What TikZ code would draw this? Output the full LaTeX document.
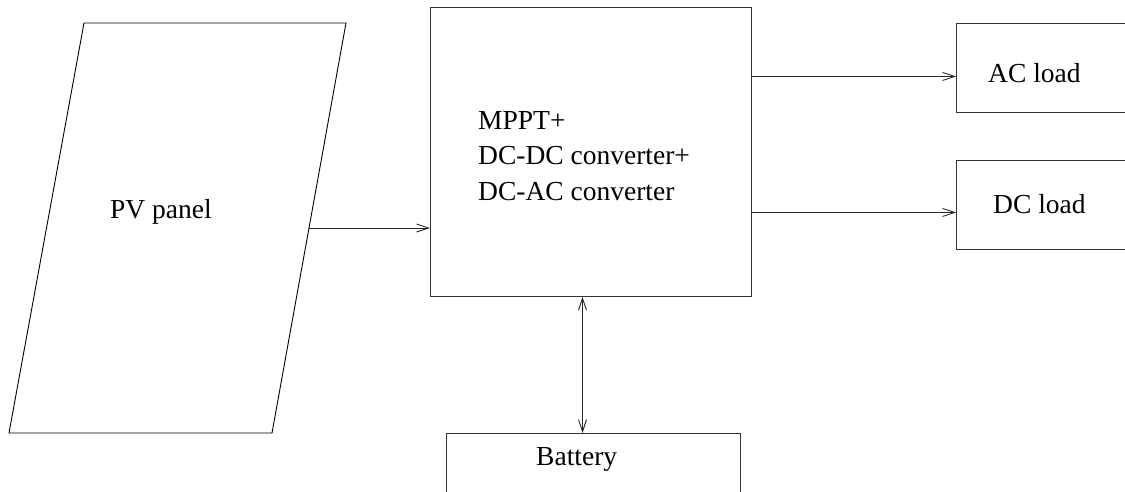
\documentclass[tikz,border=0pt]{standalone}
\usepackage{fontspec}
\setmainfont{Liberation Serif}
\usetikzlibrary{arrows.meta,positioning,calc}
\tikzset{
  doboz/.style={draw=black!80,line width=0.9pt,inner sep=0pt},
  felirat/.style={inner sep=0pt,font=\fontsize{27.5}{35.5}\selectfont},
  nyil/.style={black!85,line width=0.9pt,-{Straight Barb[length=12pt,width=8pt,line width=0.9pt]}},
  ketnyil/.style={black!85,line width=0.9pt,{Straight Barb[length=12pt,width=8pt,line width=0.9pt]}-{Straight Barb[length=12pt,width=8pt,line width=0.9pt]}},
}

\begin{document}
\begin{tikzpicture}[x=1pt,y=-1pt]
  \useasboundingbox (0,0) rectangle (1125,491);
  \clip (0,0) rectangle (1125,491);
  % PV panel (parallelogram)
  \draw[black,line width=0.9pt] (84,23) -- (346,23) -- (272,433) -- (9,433) -- cycle;
  \node[felirat,anchor=base west] (pv) at (110,218) {PV panel};
  \coordinate (pvki) at (309,228);
  % converter block
  \node[doboz,anchor=north west,minimum width=321pt,minimum height=289pt] (conv) at (430,7) {};
  \node[felirat,anchor=base west,align=left] (convtxt) at (478,200)
    {MPPT+\\DC-DC converter+\\DC-AC converter};
  % loads
  \node[doboz,anchor=north west,minimum width=220pt,minimum height=89pt] (ac) at (956,23) {};
  \node[felirat,anchor=base west] (actxt) at (988,82) {AC load};
  \node[doboz,anchor=north west,minimum width=220pt,minimum height=89pt] (dc) at (956,160) {};
  \node[felirat,anchor=base west] (dctxt) at (993,213) {DC load};
  % battery
  \node[doboz,anchor=north west,minimum width=294pt,minimum height=90pt] (bat) at (446,433) {};
  \node[felirat,anchor=base west] (battxt) at (536,465) {Battery};
  % connectors
  \draw[nyil] (pvki) -- (pvki -| conv.west);
  \draw[nyil] ([yshift=-8.5pt]conv.east |- ac.west) -- ([yshift=-8.5pt]ac.west);
  \draw[nyil] ([yshift=-7.5pt]conv.east |- dc.west) -- ([yshift=-7.5pt]dc.west);
  \draw[ketnyil] (conv.south -| 582.5,0) -- (bat.north -| 582.5,0);
\end{tikzpicture}
\end{document}
